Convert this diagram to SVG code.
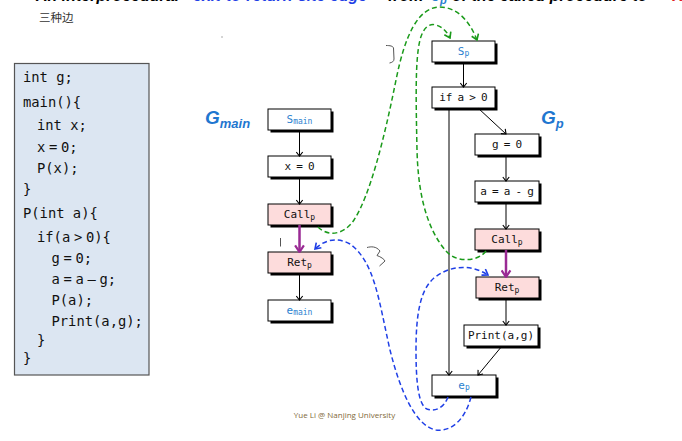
<svg xmlns="http://www.w3.org/2000/svg" width="682" height="441" viewBox="0 0 682 441">
<defs>
<style>
.sh{fill:#000}
.box{fill:#fff;stroke:#000;stroke-width:1}
.pink{fill:#fddcdc}
.lbl{font-family:"DejaVu Sans Mono",monospace;font-size:11px;text-anchor:middle;fill:#111;word-spacing:-1.5px}
.bl{fill:#2a7fcf}
.code{font-family:"DejaVu Sans Mono",monospace;font-size:13.8px;fill:#111}
.op{word-spacing:-4.6px}
.edge{stroke:#000;stroke-width:1;fill:none;marker-end:url(#ah)}
.callret{stroke:#9a2a94;stroke-width:2.5;fill:none;marker-end:url(#ahp)}
.gd{stroke:#1a9a1a;stroke-width:1.5;stroke-dasharray:5 3;fill:none;marker-end:url(#ahg)}
.bd{stroke:#1f3fe6;stroke-width:1.5;stroke-dasharray:5 3;fill:none;marker-end:url(#ahb)}
.hand{stroke:#555;stroke-width:1;fill:none}
.G{font-family:"Liberation Sans",Arial,sans-serif;font-weight:bold;font-style:italic;fill:#1f77d0}
.title{font-family:"Liberation Sans",Arial,sans-serif;font-weight:bold;font-style:italic;font-size:16px}
</style>
<marker id="ah" viewBox="0 0 10 10" refX="9" refY="5" markerWidth="8" markerHeight="8" markerUnits="userSpaceOnUse" orient="auto"><path d="M4,1 L9,5 L4,9" fill="none" stroke="#000" stroke-width="1.4"/></marker>
<marker id="ahp" viewBox="0 0 10 10" refX="9" refY="5" markerWidth="11" markerHeight="11" markerUnits="userSpaceOnUse" orient="auto"><path d="M3,1 L9,5 L3,9" fill="none" stroke="#9a2a94" stroke-width="2"/></marker>
<marker id="ahg" viewBox="0 0 10 10" refX="9" refY="5" markerWidth="9" markerHeight="9" markerUnits="userSpaceOnUse" orient="auto"><path d="M3,1 L9,5 L3,9" fill="none" stroke="#1a9a1a" stroke-width="1.8"/></marker>
<marker id="ahb" viewBox="0 0 10 10" refX="9" refY="5" markerWidth="9" markerHeight="9" markerUnits="userSpaceOnUse" orient="auto"><path d="M3,1 L9,5 L3,9" fill="none" stroke="#1f3fe6" stroke-width="1.8"/></marker>
</defs>
<rect width="682" height="441" fill="#fff"/>

<g id="title">
<text class="title" y="0.5"><tspan x="36" fill="#000">An interprocedural</tspan><tspan x="193" fill="#1f3fe6">exit-to-return-site edge</tspan><tspan x="388" fill="#000">from</tspan><tspan x="431" fill="#2a7fcf">e<tspan font-size="11" dy="3">p</tspan></tspan><tspan x="452" y="0.5" fill="#000">of the called procedure to</tspan><tspan x="672" fill="#e02020">R</tspan></text>
<text x="39" y="22" font-family="'Noto Sans CJK SC',sans-serif" font-size="11.5" fill="#333">三种边</text>
</g>

<g id="code">
<rect x="14.5" y="63.5" width="134.5" height="311.5" fill="#dce6f2" stroke="#555" stroke-width="1.2"/>
<text class="code" x="23" y="82">int g;</text>
<text class="code" x="23" y="107">main(){</text>
<text class="code" x="37" y="130">int x;</text>
<text class="code op" x="37" y="152">x = 0;</text>
<text class="code" x="37" y="173">P(x);</text>
<text class="code" x="23" y="194">}</text>
<text class="code" x="23" y="218">P(int a){</text>
<text class="code op" x="37" y="242">if(a &gt; 0){</text>
<text class="code op" x="51.5" y="263">g = 0;</text>
<text class="code op" x="51.5" y="284">a = a – g;</text>
<text class="code" x="51.5" y="305">P(a);</text>
<text class="code" x="51.5" y="326">Print(a,g);</text>
<text class="code" x="37" y="345">}</text>
<text class="code" x="23" y="363">}</text>
</g>

<g id="labels">
<text class="G" x="205" y="124" font-size="19">G<tspan font-size="13" dy="4">main</tspan></text>
<text class="G" x="541" y="124" font-size="19">G<tspan font-size="13" dy="4">p</tspan></text>
</g>

<g id="n-smain"><rect class="sh" x="270.5" y="111.5" width="63" height="21"/><rect class="box" x="268" y="109" width="63" height="21"/><text class="lbl bl" x="299.5" y="123">S<tspan font-size="8" dy="1">main</tspan></text></g>
<g id="n-x0"><rect class="sh" x="270.5" y="158.5" width="63" height="21"/><rect class="box" x="268" y="156" width="63" height="21"/><text class="lbl" x="299.5" y="170">x = 0</text></g>
<g id="n-callmain"><rect class="sh" x="270.5" y="206.5" width="63" height="21"/><rect class="box pink" x="268" y="204" width="63" height="21"/><text class="lbl" x="299.5" y="218">Call<tspan font-size="8" dy="2">p</tspan></text></g>
<g id="n-retmain"><rect class="sh" x="270.5" y="254.5" width="63" height="21"/><rect class="box pink" x="268" y="252" width="63" height="21"/><text class="lbl" x="299.5" y="266">Ret<tspan font-size="8" dy="2">p</tspan></text></g>
<g id="n-emain"><rect class="sh" x="270.5" y="302.5" width="63" height="21"/><rect class="box" x="268" y="300" width="63" height="21"/><text class="lbl bl" x="299.5" y="314">e<tspan font-size="8" dy="1">main</tspan></text></g>

<g id="n-sp"><rect class="sh" x="434.5" y="43.5" width="63" height="21"/><rect class="box" x="432" y="41" width="63" height="21"/><text class="lbl bl" x="463.5" y="55">S<tspan font-size="8" dy="1">p</tspan></text></g>
<g id="n-if"><rect class="sh" x="434.5" y="89.5" width="63" height="21"/><rect class="box" x="432" y="87" width="63" height="21"/><text class="lbl" x="463.5" y="101">if a &gt; 0</text></g>
<g id="n-g0"><rect class="sh" x="477.5" y="136.5" width="64" height="21"/><rect class="box" x="475" y="134" width="64" height="21"/><text class="lbl" x="507" y="148">g = 0</text></g>
<g id="n-aag"><rect class="sh" x="477.5" y="183.5" width="64" height="21"/><rect class="box" x="475" y="181" width="64" height="21"/><text class="lbl" x="507" y="195">a = a - g</text></g>
<g id="n-callp"><rect class="sh" x="477.5" y="231.5" width="64" height="21"/><rect class="box pink" x="475" y="229" width="64" height="21"/><text class="lbl" x="507" y="243">Call<tspan font-size="8" dy="2">p</tspan></text></g>
<g id="n-retp"><rect class="sh" x="478.5" y="279.5" width="63" height="21"/><rect class="box pink" x="476" y="277" width="63" height="21"/><text class="lbl" x="507" y="291">Ret<tspan font-size="8" dy="2">p</tspan></text></g>
<g id="n-print"><rect class="sh" x="466.5" y="327.5" width="74" height="21"/><rect class="box" x="464" y="325" width="74" height="21"/><text class="lbl" x="501" y="339">Print(a,g)</text></g>
<g id="n-ep"><rect class="sh" x="434.5" y="377.5" width="64" height="21"/><rect class="box" x="432" y="375" width="64" height="21"/><text class="lbl bl" x="464" y="389">e<tspan font-size="8" dy="1">p</tspan></text></g>

<g id="connectors">
<path class="edge" d="M299.5,130 V156"/>
<path class="edge" d="M299.5,177 V204"/>
<path class="callret" d="M299.5,225 V252"/>
<path class="edge" d="M299.5,273 V300"/>
<path class="edge" d="M463.5,62 V87"/>
<path class="edge" d="M478,108 L506,134"/>
<path class="edge" d="M506,155 V181"/>
<path class="edge" d="M506,202 V229"/>
<path class="callret" d="M506,250 V277"/>
<path class="edge" d="M506,298 V325"/>
<path class="edge" d="M502,346 L478,375"/>
<path class="edge" d="M449,108 V375"/>
<path class="gd" d="M318,227 C328,237 344,235 354,220 C370,195 384,140 396,80 C405,35 418,8 439,7 C458,7 470,22 477,40"/>
<path class="gd" d="M486,251 C478,262 456,263 446,251 C426,228 418,192 417,150 C416,100 415,60 420,40 C423,28 429,23 436,25 C443,27 447,32 450,38"/>
<path class="bd" d="M471,397 C465,420 451,432 436,430 C415,426 400,390 390,350 C379,302 375,262 350,244 C336,236 323,241 315,249"/>
<path class="bd" d="M448,397 C444,408 435,412 427,409 C418,405 416,380 416,350 C416,315 420,290 434,278 C450,265 471,264 488,275"/>
</g>

<g id="marks">
<path class="hand" d="M280.5,238 V246.5"/>
<path class="hand" d="M386,45.5 C390,45.5 393,46 393.5,48 L394,59 C394,61.5 392,62.5 389.5,63"/>
<path class="hand" d="M367,247.5 C371,246.5 376,246 380,251 L377,255.5 C381,257 384,259 385,261 L379.5,266"/>
<path class="hand" d="M222,36.5 V37.5" stroke-width="0.8"/>
</g>

<text x="344.5" y="418" text-anchor="middle" font-family="'Open Sans','Liberation Sans',sans-serif" font-size="8" fill="#7f6a3a">Yue Li @ Nanjing University</text>
</svg>
